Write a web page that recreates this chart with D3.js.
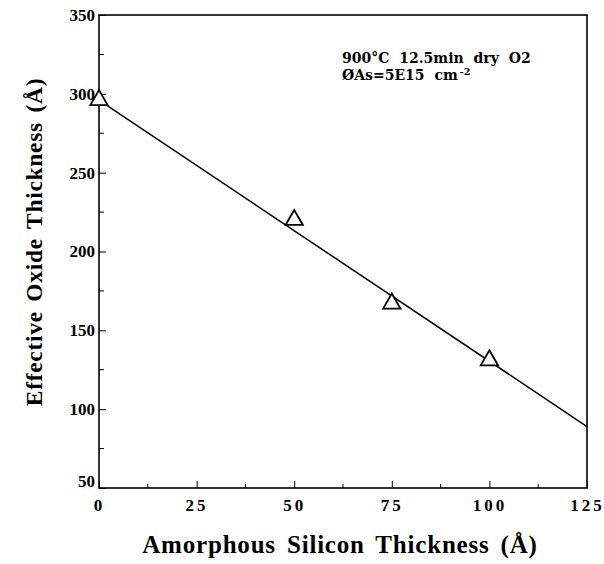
<!DOCTYPE html>
<html>
<head>
<meta charset="utf-8">
<script src="https://cdn.jsdelivr.net/npm/d3@7"></script>
<style>
  body { margin: 0; background: #fff; }
  text { font-family: "Liberation Serif", "DejaVu Serif", serif; }
</style>
</head>
<body>
<div id="chart"></div>
<script>
// Measured points (amorphous Si thickness, effective oxide thickness)
const siThickness = [0, 50, 75, 100];
const oxideThickness = [296, 220, 167, 131];
// Fitted line end points
const fitX = [0, 125];
const fitY = [296, 89];
const xTicks = [0, 25, 50, 75, 100, 125];
const yTicks = [50, 100, 150, 200, 250, 300, 350];

const width = 604, height = 564;
const margin = { top: 15, right: 17, bottom: 76, left: 99 };
const chartWidth = width - margin.left - margin.right;
const chartHeight = height - margin.top - margin.bottom;

const svg = d3.select("#chart").append("svg")
    .attr("width", width)
    .attr("height", height);

const chart = svg.append("g")
    .attr("transform", `translate(${margin.left}, ${margin.top})`);

const xScale = d3.scaleLinear().domain([0, 125]).range([0, chartWidth]);
const yScale = d3.scaleLinear().domain([50, 350]).range([chartHeight, 0]);

// frame
chart.append("rect")
    .attr("width", chartWidth)
    .attr("height", chartHeight)
    .attr("fill", "none")
    .attr("stroke", "#000")
    .attr("stroke-width", 1.6);

// x axis ticks (inward), minor every 12.5
const xAxis = d3.axisBottom(xScale)
    .tickValues(xTicks)
    .tickSize(-7)
    .tickPadding(11);
const gx = chart.append("g")
    .attr("transform", `translate(0, ${chartHeight})`)
    .call(xAxis);
gx.select(".domain").remove();
gx.selectAll("text")
    .attr("font-size", 17)
    .attr("font-weight", "bold")
    .attr("letter-spacing", 3)
    .attr("fill", "#000");

const xMinor = d3.range(12.5, 125, 25);
chart.selectAll(".xminor")
    .data(xMinor)
    .enter()
    .append("line")
    .attr("x1", d => xScale(d))
    .attr("x2", d => xScale(d))
    .attr("y1", chartHeight)
    .attr("y2", chartHeight - 4)
    .attr("stroke", "#000");

// y axis ticks (inward), minor every 25
const yAxis = d3.axisLeft(yScale)
    .tickValues(yTicks)
    .tickSize(-7)
    .tickPadding(4);
const gy = chart.append("g").call(yAxis);
gy.select(".domain").remove();
gy.selectAll("text")
    .attr("font-size", 17)
    .attr("font-weight", "bold")
    .attr("fill", "#000");
gy.selectAll("text").filter(d => d === 50).attr("dy", "-0.1em");

const yMinor = d3.range(75, 350, 50);
chart.selectAll(".yminor")
    .data(yMinor)
    .enter()
    .append("line")
    .attr("x1", 0)
    .attr("x2", 5)
    .attr("y1", d => yScale(d))
    .attr("y2", d => yScale(d))
    .attr("stroke", "#000");

// fitted line
chart.append("line")
    .attr("x1", xScale(fitX[0]))
    .attr("y1", yScale(fitY[0]))
    .attr("x2", xScale(fitX[1]))
    .attr("y2", yScale(fitY[1]))
    .attr("stroke", "#000")
    .attr("stroke-width", 1.5);

// data triangles
const tri = d3.symbol().type(d3.symbolTriangle).size(130);
chart.selectAll(".pt")
    .data(siThickness.map((x, i) => ({ x, y: oxideThickness[i] })))
    .enter()
    .append("path")
    .attr("d", tri)
    .attr("transform", d => `translate(${xScale(d.x)}, ${yScale(d.y)})`)
    .attr("fill", "#fff")
    .attr("stroke", "#000")
    .attr("stroke-width", 1.8);

// annotation (two separate lines)
const noteX = 342 - margin.left;
const noteStyle = sel => sel
    .attr("x", noteX)
    .style("font-family", "'DejaVu Serif', serif")
    .style("font-weight", "bold")
    .style("font-size", "14px")
    .style("word-spacing", "5px")
    .attr("fill", "#000");
chart.append("text")
    .call(noteStyle)
    .attr("y", 63 - margin.top)
    .text("900°C 12.5min dry O2");
const l2 = chart.append("text")
    .call(noteStyle)
    .attr("y", 80 - margin.top)
    .text("ØAs=5E15 cm");
l2.append("tspan").style("font-size", "9.5px").attr("dx", 2).attr("dy", -5).text("-2");

// axis titles
svg.append("text")
    .attr("x", 340)
    .attr("y", 553)
    .attr("text-anchor", "middle")
    .attr("font-size", 25)
    .attr("font-weight", "bold")
    .attr("letter-spacing", 0.8)
    .attr("word-spacing", 4)
    .text("Amorphous Silicon Thickness (Å)");

svg.append("text")
    .attr("transform", `translate(42, 242) rotate(-90)`)
    .attr("text-anchor", "middle")
    .attr("font-size", 23.5)
    .attr("font-weight", "bold")
    .attr("letter-spacing", 0.7)
    .attr("word-spacing", 3)
    .text("Effective Oxide Thickness (Å)");
</script>
</body>
</html>
